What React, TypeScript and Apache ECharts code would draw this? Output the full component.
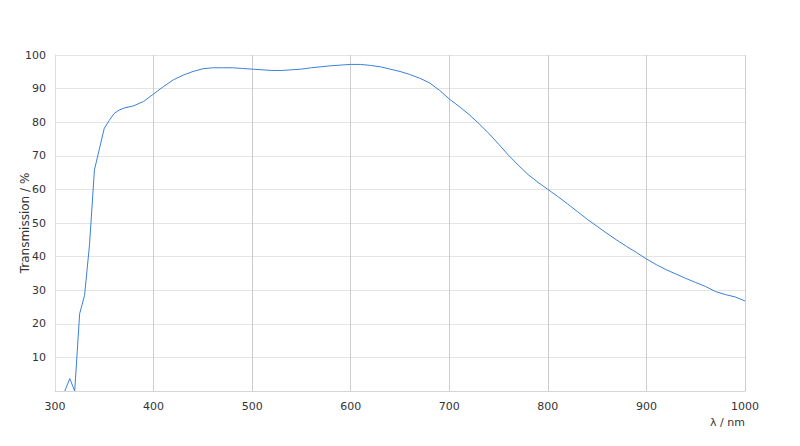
import { useEffect, useRef } from "react";
import * as echarts from "echarts";

const LINE = "#3b80d8";
const FONT = "DejaVu Sans";

// Wellenlänge (nm) und Transmission (%)
const wavelengths = [
    310, 315, 320, 325, 330, 335, 340, 345, 350, 355, 360, 365, 370, 380, 390,
    400, 410, 420, 430, 440, 450, 460, 470, 480, 490, 500, 510, 520, 530, 540,
    550, 560, 570, 580, 590, 600, 610, 620, 630, 640, 650, 660, 670, 680, 690,
    700, 710, 720, 730, 740, 750, 760, 770, 780, 790, 800, 810, 820, 830, 840,
    850, 860, 870, 880, 890, 900, 910, 920, 930, 940, 950, 960, 970, 980, 990,
    1000,
];
const transmission = [
    0, 3.7, 0, 23, 28.5, 43.5, 65.8, 72, 78.2, 80.5, 82.6, 83.6, 84.2, 84.9, 86.2,
    88.4, 90.6, 92.6, 94, 95.1, 95.9, 96.2, 96.2, 96.2, 96, 95.8, 95.6, 95.4, 95.4, 95.6,
    95.8, 96.2, 96.5, 96.8, 97, 97.2, 97.2, 96.9, 96.5, 95.8, 95.1, 94.2, 93.1, 91.7, 89.5,
    86.9, 84.7, 82.3, 79.6, 76.7, 73.5, 70.2, 67.2, 64.4, 62.1, 60.0, 57.9, 55.7, 53.4, 51.1,
    49, 46.9, 44.9, 43, 41.2, 39.3, 37.6, 36.1, 34.8, 33.5, 32.3, 31.1, 29.6, 28.7, 28,
    26.8,
];

export default function App() {
    const ref = useRef<HTMLDivElement>(null);

    useEffect(() => {
        document.body.style.margin = "0";
        if (!ref.current) return;
        const chart = echarts.init(ref.current, undefined, { renderer: "svg" });
        chart.setOption({
            animation: false,
            backgroundColor: "#fff",
            textStyle: { fontFamily: FONT },
            grid: { left: 55, right: 55, top: 55, bottom: 55, outerBoundsMode: "none" },
            xAxis: {
                type: "value",
                min: 300,
                max: 1000,
                interval: 100,
                name: "λ / nm",
                nameLocation: "end",
                nameGap: 0,
                nameTextStyle: {
                    color: "#333",
                    fontSize: 11,
                    align: "right",
                    verticalAlign: "top",
                    padding: [26, 0, 0, 0],
                },
                axisLine: { lineStyle: { color: "#d6d6d6" } },
                axisTick: { show: false },
                axisLabel: {
                    color: "#333",
                    fontSize: 11,
                    margin: 10,
                    formatter: (v: number) => String(v),
                },
                splitLine: { lineStyle: { color: "#cccccc" } },
            },
            yAxis: {
                type: "value",
                min: 0,
                max: 100,
                interval: 10,
                name: "Transmission / %",
                nameLocation: "middle",
                nameGap: 24,
                nameMoveOverlap: false,
                nameTextStyle: { color: "#333", fontSize: 12 },
                axisLine: { show: true, lineStyle: { color: "#dddddd" } },
                axisTick: { show: false },
                axisLabel: {
                    color: "#333",
                    fontSize: 11,
                    margin: 9,
                    showMinLabel: false,
                },
                splitLine: { lineStyle: { color: "#e4e4e4" } },
            },
            series: [
                {
                    type: "line",
                    data: wavelengths.map((w, i) => [w, transmission[i]]),
                    showSymbol: false,
                    lineStyle: { color: LINE, width: 1 },
                    itemStyle: { color: LINE },
                },
            ],
        });
        return () => chart.dispose();
    }, []);

    return <div ref={ref} style={{ width: 800, height: 446 }} />;
}
